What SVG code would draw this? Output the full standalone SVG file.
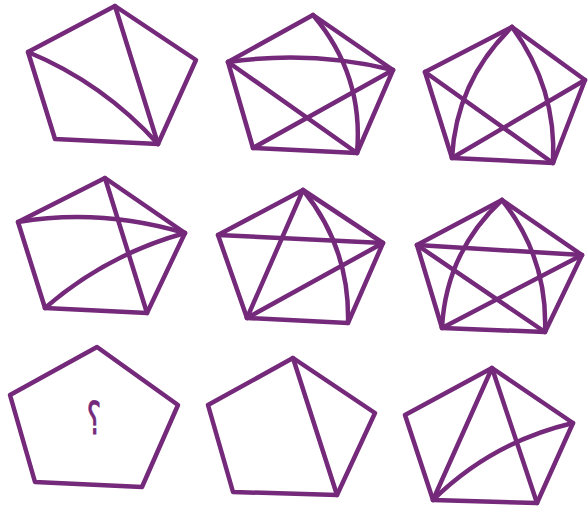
<svg xmlns="http://www.w3.org/2000/svg" width="588" height="512" viewBox="0 0 588 512">
<style>
.s{fill:none;stroke:#74297a;stroke-width:4.5;stroke-linejoin:round;stroke-linecap:round}
.t{font-family:"DejaVu Sans","Noto Sans",sans-serif;font-size:30px;fill:#74297a;stroke:#74297a;stroke-width:0.6;text-anchor:middle}
</style>
<rect width="588" height="512" fill="#ffffff"/>
<g id="p1" class="s">
<polygon points="115,6 196,60 158,144 55,139 28,52"/>
<path d="M115,6 L158,144"/>
<path d="M28,52 Q103,83 158,144"/>
</g>
<g id="p2" class="s">
<polygon points="313,15 393,70 357,153 253,148 228,62"/>
<path d="M228,62 Q312,50 393,70"/>
<path d="M313,15 Q364,75 357,153"/>
<path d="M228,62 L357,153"/>
<path d="M393,70 L253,148"/>
</g>
<g id="p3" class="s">
<polygon points="512,27 585,80 553,163 452,158 425,72"/>
<path d="M512,27 Q456,81 452,158"/>
<path d="M512,27 Q557,88 553,163"/>
<path d="M425,72 L553,163"/>
<path d="M585,80 L452,158"/>
</g>
<g id="p4" class="s">
<polygon points="105,178 185,233 147,313 45,308 18,222"/>
<path d="M18,222 Q100,208 185,233"/>
<path d="M105,178 L147,313"/>
<path d="M185,233 Q106,255 45,308"/>
</g>
<g id="p5" class="s">
<polygon points="303,190 383,243 348,323 247,318 218,235"/>
<path d="M303,190 L247,318"/>
<path d="M218,235 L383,243"/>
<path d="M383,243 L247,318"/>
<path d="M303,190 Q350,248 348,323"/>
</g>
<g id="p6" class="s">
<polygon points="502,200 582,255 545,332 442,328 417,245"/>
<path d="M502,200 Q446,252 442,328"/>
<path d="M502,200 Q548,258 545,332"/>
<path d="M417,245 L582,255"/>
<path d="M417,245 L545,332"/>
<path d="M582,255 L442,328"/>
</g>
<g id="p7">
<polygon class="s" points="97,347 178,405 142,487 35,482 10,395"/>
<text class="t" transform="translate(94,434) scale(0.9,1.5)">؟</text>
</g>
<g id="p8" class="s">
<polygon points="293,358 375,413 337,495 233,492 208,405"/>
<path d="M293,358 L337,495"/>
</g>
<g id="p9" class="s">
<polygon points="492,368 573,423 537,503 433,500 405,415"/>
<path d="M492,368 L433,500"/>
<path d="M492,368 L537,503"/>
<path d="M573,423 Q492,442 433,500"/>
</g>
</svg>
